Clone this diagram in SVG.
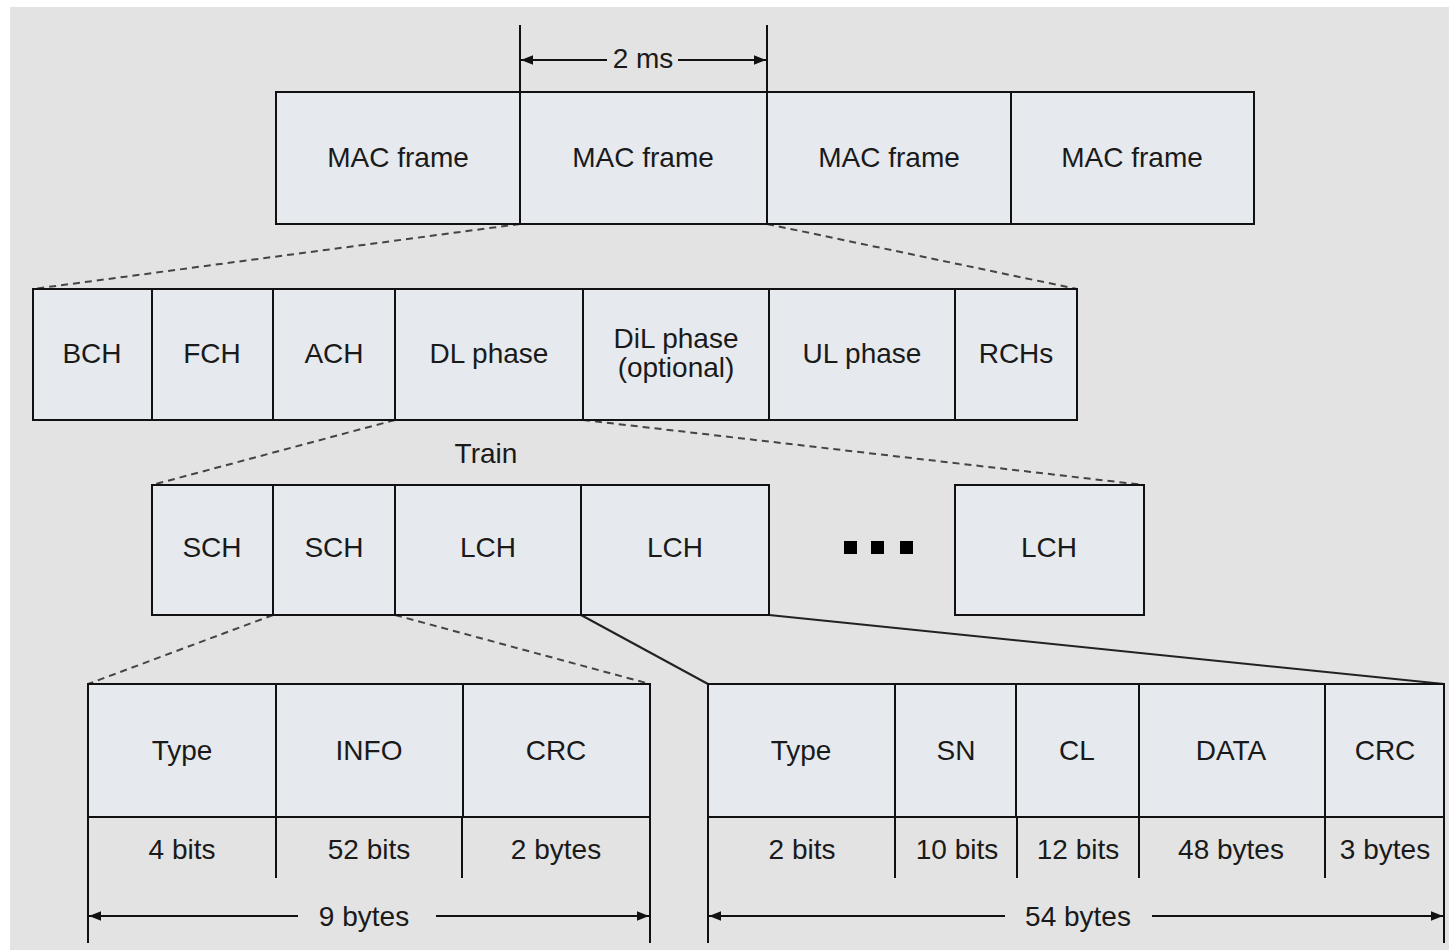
<svg xmlns="http://www.w3.org/2000/svg" width="1449" height="950" viewBox="0 0 1449 950">
<defs>
<style>
.bg{fill:#e3e3e3}
.box{fill:#e6eaee;stroke:#111;stroke-width:2}
.ln{stroke:#111;stroke-width:2;fill:none}
.dash{stroke:#444;stroke-width:2;stroke-dasharray:7 5;fill:none}
.sol{stroke:#222;stroke-width:2;fill:none}
text{font-family:"Liberation Sans",Arial,sans-serif;font-size:28px;fill:#1a1a1a;text-anchor:middle;dominant-baseline:central}
</style>
<marker id="ah" viewBox="0 0 10 10" refX="10" refY="5" markerWidth="16" markerHeight="12" markerUnits="userSpaceOnUse" orient="auto-start-reverse">
<path d="M0,1 L10,5 L0,9 z" fill="#111"/>
</marker>
</defs>
<rect x="0" y="0" width="1449" height="950" fill="#ffffff"/>
<rect class="bg" x="10" y="7" width="1439" height="943"/>

<g id="connectors">
<line class="dash" x1="520" y1="224" x2="33" y2="289"/>
<line class="dash" x1="767" y1="224" x2="1077" y2="289"/>
<line class="dash" x1="395" y1="420" x2="152" y2="485"/>
<line class="dash" x1="583" y1="420" x2="1144" y2="485"/>
<line class="dash" x1="273" y1="615" x2="88" y2="684"/>
<line class="dash" x1="395" y1="615" x2="650" y2="684"/>
<line class="sol" x1="581" y1="615" x2="708" y2="684"/>
<line class="sol" x1="769" y1="615" x2="1444" y2="684"/>
</g>

<g id="dim-2ms">
<line class="ln" x1="520" y1="25" x2="520" y2="92"/>
<line class="ln" x1="767" y1="25" x2="767" y2="92"/>
<line class="ln" x1="607" y1="60" x2="521" y2="60" marker-end="url(#ah)"/>
<line class="ln" x1="678" y1="60" x2="766" y2="60" marker-end="url(#ah)"/>
<text x="643" y="58">2 ms</text>
</g>

<g id="mac-frames">
<rect class="box" x="276" y="92" width="244" height="132"/>
<rect class="box" x="520" y="92" width="247" height="132"/>
<rect class="box" x="767" y="92" width="244" height="132"/>
<rect class="box" x="1011" y="92" width="243" height="132"/>
<text x="398" y="157">MAC frame</text>
<text x="643" y="157">MAC frame</text>
<text x="889" y="157">MAC frame</text>
<text x="1132" y="157">MAC frame</text>
</g>

<g id="phases">
<rect class="box" x="33" y="289" width="119" height="131"/>
<rect class="box" x="152" y="289" width="121" height="131"/>
<rect class="box" x="273" y="289" width="122" height="131"/>
<rect class="box" x="395" y="289" width="188" height="131"/>
<rect class="box" x="583" y="289" width="186" height="131"/>
<rect class="box" x="769" y="289" width="186" height="131"/>
<rect class="box" x="955" y="289" width="122" height="131"/>
<text x="92" y="353">BCH</text>
<text x="212" y="353">FCH</text>
<text x="334" y="353">ACH</text>
<text x="489" y="353">DL phase</text>
<text x="676" y="338">DiL phase</text>
<text x="676" y="367">(optional)</text>
<text x="862" y="353">UL phase</text>
<text x="1016" y="353">RCHs</text>
</g>

<g id="train">
<text x="486" y="453">Train</text>
<rect class="box" x="152" y="485" width="121" height="130"/>
<rect class="box" x="273" y="485" width="122" height="130"/>
<rect class="box" x="395" y="485" width="186" height="130"/>
<rect class="box" x="581" y="485" width="188" height="130"/>
<rect class="box" x="955" y="485" width="189" height="130"/>
<text x="212" y="547">SCH</text>
<text x="334" y="547">SCH</text>
<text x="488" y="547">LCH</text>
<text x="675" y="547">LCH</text>
<text x="1049" y="547">LCH</text>
<rect x="844" y="541" width="13" height="13" fill="#000"/>
<rect x="871" y="541" width="13" height="13" fill="#000"/>
<rect x="900" y="541" width="13" height="13" fill="#000"/>
</g>

<g id="sch-format">
<rect class="box" x="88" y="684" width="188" height="133"/>
<rect class="box" x="276" y="684" width="187" height="133"/>
<rect class="box" x="463" y="684" width="187" height="133"/>
<line class="ln" x1="463" y1="684" x2="463" y2="817" stroke-width="3"/>
<line class="ln" x1="88" y1="817" x2="88" y2="943"/>
<line class="ln" x1="276" y1="817" x2="276" y2="878"/>
<line class="ln" x1="462" y1="817" x2="462" y2="878"/>
<line class="ln" x1="650" y1="817" x2="650" y2="943"/>
<line class="ln" x1="298" y1="916" x2="89" y2="916" marker-end="url(#ah)"/>
<line class="ln" x1="436" y1="916" x2="649" y2="916" marker-end="url(#ah)"/>
<text x="182" y="750">Type</text>
<text x="369" y="750">INFO</text>
<text x="556" y="750">CRC</text>
<text x="182" y="849">4 bits</text>
<text x="369" y="849">52 bits</text>
<text x="556" y="849">2 bytes</text>
<text x="364" y="916">9 bytes</text>
</g>

<g id="lch-format">
<rect class="box" x="708" y="684" width="187" height="133"/>
<rect class="box" x="895" y="684" width="121" height="133"/>
<rect class="box" x="1016" y="684" width="123" height="133"/>
<rect class="box" x="1139" y="684" width="186" height="133"/>
<rect class="box" x="1325" y="684" width="119" height="133"/>
<line class="ln" x1="708" y1="817" x2="708" y2="943"/>
<line class="ln" x1="895" y1="817" x2="895" y2="878"/>
<line class="ln" x1="1017" y1="817" x2="1017" y2="878"/>
<line class="ln" x1="1139" y1="817" x2="1139" y2="878"/>
<line class="ln" x1="1325" y1="817" x2="1325" y2="878"/>
<line class="ln" x1="1444" y1="817" x2="1444" y2="943"/>
<line class="ln" x1="1005" y1="916" x2="709" y2="916" marker-end="url(#ah)"/>
<line class="ln" x1="1152" y1="916" x2="1443" y2="916" marker-end="url(#ah)"/>
<text x="801" y="750">Type</text>
<text x="956" y="750">SN</text>
<text x="1077" y="750">CL</text>
<text x="1231" y="750">DATA</text>
<text x="1385" y="750">CRC</text>
<text x="802" y="849">2 bits</text>
<text x="957" y="849">10 bits</text>
<text x="1078" y="849">12 bits</text>
<text x="1231" y="849">48 bytes</text>
<text x="1385" y="849">3 bytes</text>
<text x="1078" y="916">54 bytes</text>
</g>
</svg>
